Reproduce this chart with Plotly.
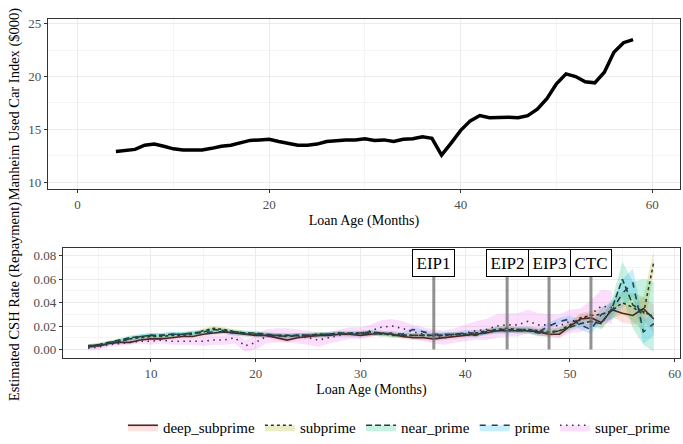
import plotly.graph_objects as go

# Loan age in months
months = list(range(4, 59))

# Manheim used car index ($000) by loan age
manheim = [12.9, 13.0, 13.1, 13.5, 13.6, 13.4, 13.15, 13.05, 13.05, 13.05,
           13.2, 13.4, 13.5, 13.7, 13.95, 14.0, 14.05, 13.85, 13.7, 13.5,
           13.5, 13.6, 13.85, 13.95, 14.0, 14.0, 14.1, 13.95, 14.0, 13.85,
           14.05, 14.1, 14.3, 14.15, 12.55, 13.7, 14.9, 15.8, 16.3, 16.1,
           16.15, 16.15, 16.1, 16.3, 16.9, 17.9, 19.3, 20.25, 20.0, 19.5,
           19.4, 20.4, 22.3, 23.2, 23.5]

# Estimated CSH (repayment) rates per credit tier
deep_subprime = [.003, .003, .005, .006, .006, .008, .009, .009, .010, .011,
                 .011, .013, .014, .015, .014, .013, .012, .012, .010, .008,
                 .010, .011, .012, .012, .013, .013, .012, .013, .014, .013,
                 .011, .010, .010, .009, .010, .011, .012, .013, .014, .016,
                 .016, .016, .016, .015, .013, .013, .020, .026, .027, .023,
                 .034, .031, .029, .035, .026]
subprime = [.003, .004, .006, .007, .009, .010, .011, .011, .012, .012,
            .013, .016, .018, .017, .015, .014, .013, .012, .012, .011,
            .012, .012, .013, .013, .014, .013, .014, .014, .013, .013,
            .012, .012, .012, .012, .012, .013, .013, .014, .016, .017,
            .018, .017, .017, .016, .015, .016, .021, .027, .029, .030,
            .033, .040, .036, .030, .075]
near_prime = [.003, .004, .006, .008, .010, .011, .012, .012, .013, .013,
              .014, .015, .017, .016, .015, .014, .014, .013, .012, .012,
              .012, .012, .013, .013, .014, .014, .014, .015, .014, .012,
              .012, .012, .012, .012, .012, .013, .013, .012, .015, .017,
              .017, .016, .016, .014, .014, .016, .019, .022, .024, .022,
              .035, .060, .038, .032, .028]
prime = [.002, .003, .005, .007, .009, .011, .012, .012, .013, .013,
         .014, .014, .015, .015, .014, .013, .013, .012, .012, .011,
         .012, .012, .012, .013, .013, .013, .013, .014, .013, .014,
         .013, .017, .015, .013, .013, .013, .014, .014, .015, .016,
         .016, .017, .017, .015, .020, .024, .026, .021, .017, .030,
         .033, .048, .057, .015, .022]
super_prime = [.001, .002, .004, .005, .006, .007, .007, .008, .007, .007,
               .007, .007, .008, .008, .010, .003, .006, .011, .012, .012,
               .011, .010, .008, .010, .012, .014, .014, .016, .019, .020,
               .018, .015, .013, .011, .010, .012, .014, .016, .017, .020,
               .021, .021, .024, .021, .021, .020, .024, .025, .030, .037,
               .036]

# Ribbon half-widths (standard errors) per credit tier
deep_se = [.0015, .0015, .0015, .0015, .0015, .0015, .0015, .0015, .0015, .0015,
           .0015, .002, .002, .002, .002, .002, .002, .002, .002, .002,
           .002, .002, .002, .002, .002, .002, .002, .002, .002, .002,
           .002, .002, .002, .002, .002, .002, .002, .002, .002, .002,
           .002, .002, .0025, .0025, .003, .003, .003, .004, .004, .005,
           .006, .008, .008, .010, .012]
sub_se = [.0015, .0015, .0015, .0015, .0015, .0015, .0015, .0015, .0015, .0015,
          .0015, .002, .002, .002, .002, .002, .002, .002, .002, .002,
          .002, .002, .002, .002, .002, .002, .002, .002, .002, .002,
          .002, .002, .002, .002, .002, .002, .002, .002, .002, .0025,
          .0025, .0025, .0025, .0025, .003, .003, .003, .004, .004, .005,
          .007, .010, .012, .015, .010]
near_se = [.0015, .0015, .0015, .0015, .002, .002, .002, .002, .002, .002,
           .002, .002, .002, .002, .002, .002, .002, .002, .002, .002,
           .002, .002, .002, .002, .002, .002, .002, .002, .002, .002,
           .002, .002, .002, .002, .002, .002, .002, .002, .002, .0025,
           .0025, .0025, .0025, .0025, .003, .003, .003, .003, .004, .005,
           .008, .015, .020, .028, .030]
prime_se = [.0015, .0015, .0015, .0015, .002, .002, .002, .002, .002, .002,
            .002, .002, .002, .002, .002, .002, .002, .002, .002, .002,
            .002, .002, .002, .002, .002, .002, .002, .002, .002, .002,
            .002, .002, .002, .002, .002, .002, .0025, .0025, .0025, .0025,
            .0025, .0025, .0025, .0025, .003, .003, .003, .004, .004, .006,
            .008, .012, .012, .010, .010]
super_se = [.002, .002, .002, .002, .002, .002, .003, .003, .003, .003,
            .003, .004, .004, .004, .005, .005, .006, .006, .006, .006,
            .006, .006, .006, .005, .005, .005, .005, .005, .006, .006,
            .006, .006, .006, .006, .006, .006, .007, .008, .009, .010,
            .010, .010, .010, .010, .009, .010, .010, .010, .012, .014,
            .014]

tiers = ["deep_subprime", "subprime", "near_prime", "prime", "super_prime"]
tier_values = [deep_subprime, subprime, near_prime, prime, super_prime]
tier_se = [deep_se, sub_se, near_se, prime_se, super_se]
fill_colors = ["rgba(248,118,109,0.22)", "rgba(163,165,0,0.22)",
               "rgba(0,191,125,0.22)", "rgba(0,176,246,0.22)",
               "rgba(231,107,243,0.22)"]
line_colors = ["#4f2626", "#38381a", "#1e4536", "#25425a", "#45294f"]
dashes = ["solid", "3px 3px", "6px 3px", "6px 6px", "1.5px 4.5px"]

# Policy events
event_labels = ["EIP1", "EIP2", "EIP3", "CTC"]
event_months = [37, 44, 48, 52]

FONT = "Liberation Serif"
fig = go.Figure()

# Top panel: Manheim index
fig.add_trace(go.Scatter(x=months, y=manheim, mode="lines",
                         line=dict(color="black", width=3.5),
                         showlegend=False, xaxis="x", yaxis="y"))

# Bottom panel: ribbons first, then lines
for name, vals, se, fc in zip(tiers, tier_values, tier_se, fill_colors):
    xs = months[:len(vals)]
    upper = [v + s for v, s in zip(vals, se)]
    lower = [v - s for v, s in zip(vals, se)]
    fig.add_trace(go.Scatter(x=xs + xs[::-1], y=upper + lower[::-1],
                             fill="toself", fillcolor=fc, mode="lines",
                             line=dict(width=0), hoverinfo="skip",
                             showlegend=False, xaxis="x2", yaxis="y2"))

for name, vals, lc, dash in zip(tiers, tier_values, line_colors, dashes):
    xs = months[:len(vals)]
    fig.add_trace(go.Scatter(x=xs, y=vals, mode="lines",
                             line=dict(color=lc, width=1.6, dash=dash),
                             showlegend=False, xaxis="x2", yaxis="y2"))

# Event markers
for lab, m in zip(event_labels, event_months):
    fig.add_trace(go.Scatter(x=[m, m], y=[0, 0.068], mode="lines",
                             line=dict(color="rgba(110,110,110,0.75)", width=3),
                             showlegend=False, xaxis="x2", yaxis="y2"))
    fig.add_annotation(x=m, y=0.0735, xref="x2", yref="y2", text=lab,
                       showarrow=False, font=dict(family=FONT, size=17, color="black"),
                       bgcolor="white", bordercolor="black", borderwidth=1,
                       borderpad=3.5)

# Legend entries
for name, fc, lc, dash in zip(tiers, fill_colors, line_colors, dashes):
    fig.add_trace(go.Scatter(x=[None], y=[None], mode="lines", name=name,
                             fill="toself", fillcolor=fc,
                             line=dict(color=lc, width=1.6, dash=dash),
                             xaxis="x2", yaxis="y2"))

W, H = 683, 444
grid_major = "#ebebeb"
grid_minor = "#f4f4f4"
axis_common = dict(showline=True, linecolor="#333333", linewidth=1.2, mirror=True,
                   ticks="outside", ticklen=3, tickcolor="#333333",
                   tickfont=dict(family=FONT, size=13, color="#4d4d4d"),
                   gridcolor=grid_major, gridwidth=1.1, zeroline=False)

fig.update_layout(
    width=W, height=H, margin=dict(l=0, r=0, t=0, b=0),
    paper_bgcolor="white", plot_bgcolor="white",
    font=dict(family=FONT, color="black"),
    xaxis=dict(domain=[48 / W, 681 / W], anchor="y", range=[-3.1, 62.9],
               tickvals=[0, 20, 40, 60],
               minor=dict(tickvals=[10, 30, 50], showgrid=True, gridcolor=grid_minor, ticklen=0),
               title=dict(text="Loan Age (Months)", font=dict(family=FONT, size=14), standoff=4),
               **axis_common),
    yaxis=dict(domain=[1 - 190 / H, 1 - 17 / H], anchor="x", range=[9.35, 25.47],
               tickvals=[10, 15, 20, 25],
               minor=dict(tickvals=[12.5, 17.5, 22.5], showgrid=True, gridcolor=grid_minor, ticklen=0),
               **axis_common),
    xaxis2=dict(domain=[63 / W, 681 / W], anchor="y2", range=[1.6, 60.5],
                tickvals=[10, 20, 30, 40, 50, 60],
                minor=dict(tickvals=[5, 15, 25, 35, 45, 55], showgrid=True, gridcolor=grid_minor, ticklen=0),
                title=dict(text="Loan Age (Months)", font=dict(family=FONT, size=14), standoff=4),
                **axis_common),
    yaxis2=dict(domain=[1 - 362 / H, 1 - 250 / H], anchor="x2", range=[-0.0076, 0.0867],
                tickvals=[0, 0.02, 0.04, 0.06, 0.08], tickformat=".2f",
                minor=dict(tickvals=[0.01, 0.03, 0.05, 0.07], showgrid=True, gridcolor=grid_minor, ticklen=0),
                **axis_common),
    legend=dict(orientation="h", x=400 / W, xanchor="center", y=-0.012, yanchor="bottom",
                font=dict(family=FONT, size=15, color="black"),
                itemwidth=30, tracegroupgap=0),
)

# Y-axis titles
fig.add_annotation(x=14 / W, y=1 - 103 / H, xref="paper", yref="paper",
                   xanchor="center", yanchor="middle",
                   text="Manheim Used Car Index ($000)", textangle=-90,
                   showarrow=False, font=dict(family=FONT, size=14.5, color="black"))
fig.add_annotation(x=14 / W, y=1 - 304 / H, xref="paper", yref="paper",
                   xanchor="center", yanchor="middle",
                   text="Estimated CSH Rate (Repayment)", textangle=-90,
                   showarrow=False, font=dict(family=FONT, size=14.5, color="black"))

fig.write_html("out.html")
